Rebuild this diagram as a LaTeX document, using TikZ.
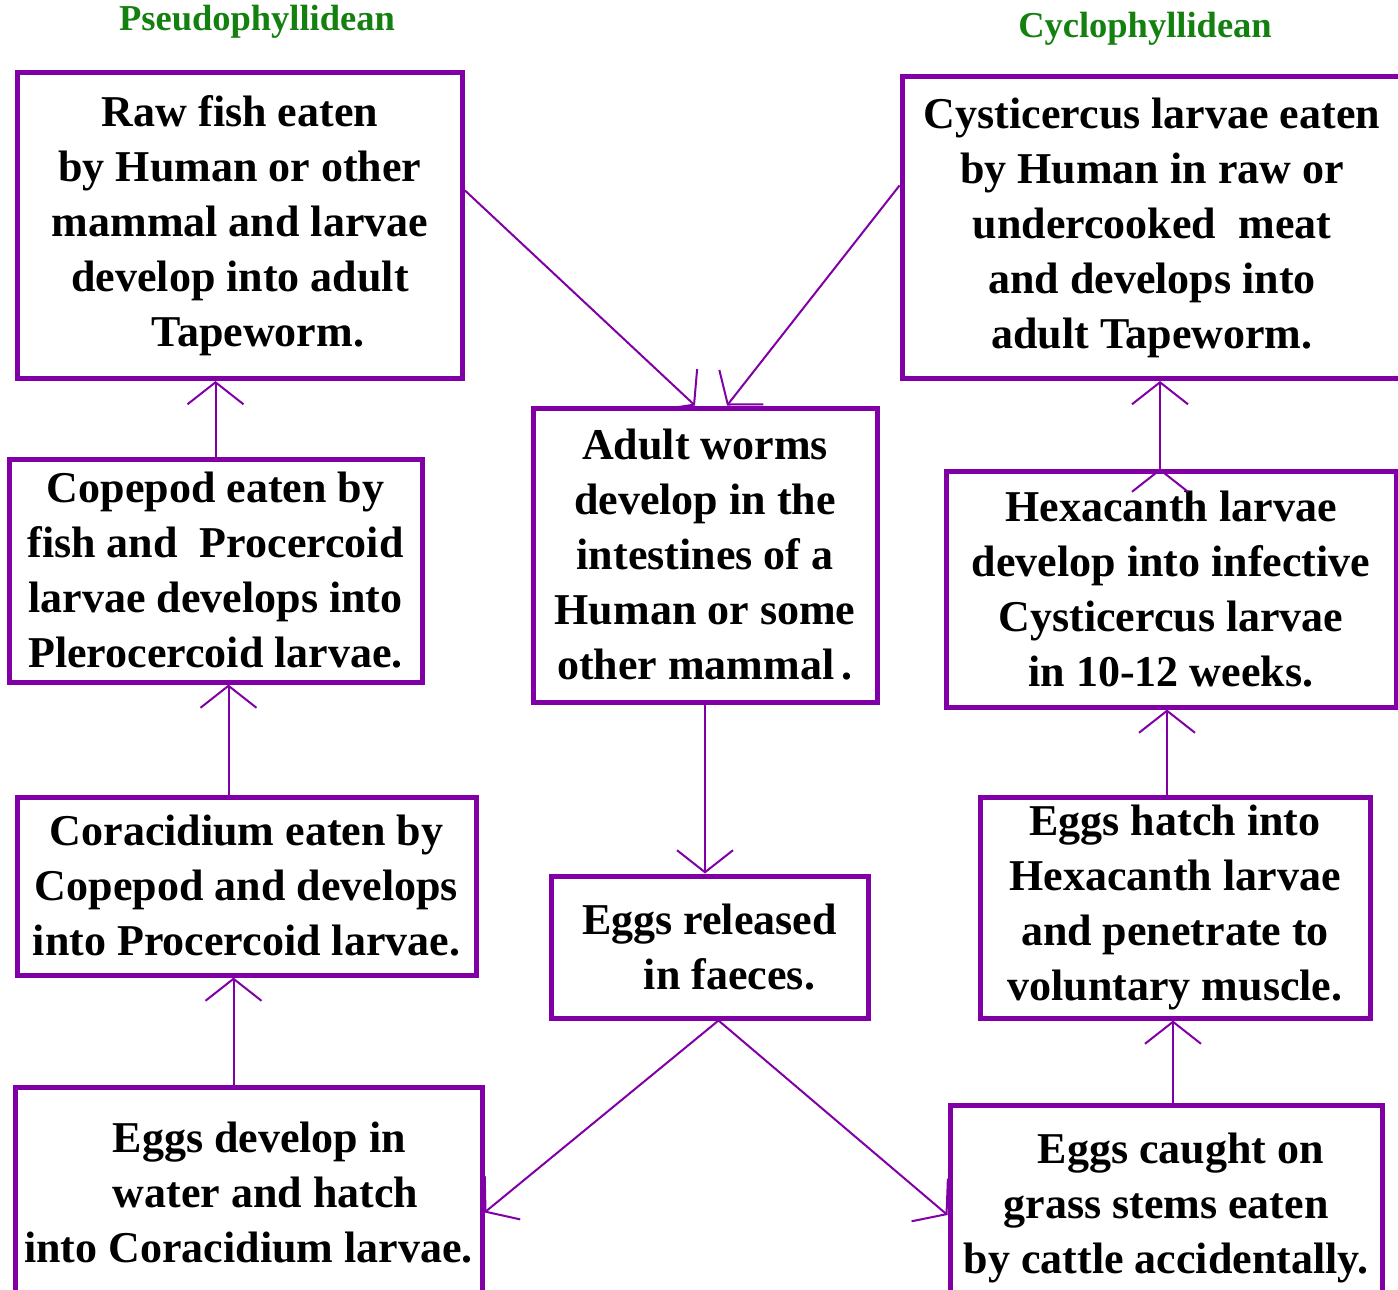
\documentclass[tikz,border=0pt]{standalone}
\usepackage{fontspec}
\setmainfont{Liberation Serif}
\usetikzlibrary{arrows.meta,positioning}
\definecolor{cyclepurple}{RGB}{128,0,166}
\definecolor{titlegreen}{RGB}{20,128,16}

\begin{document}
\begin{tikzpicture}[
        x=1pt,y=-1pt,
        stage/.style={
          draw=cyclepurple,line width=5pt,
          align=center,inner sep=0pt,
          font=\fontsize{44}{55}\selectfont\bfseries
        },
        heading/.style={
          text=titlegreen,
          font=\fontsize{36.5}{40}\selectfont\bfseries
        },
        link/.style={
          cyclepurple,line width=2pt,
          -{Straight Barb[length=22pt,width=56pt,line width=2pt]}
        },
      ]
      \clip (0,0) rectangle (1398,1290);

      \node[heading] (pseudo) at (257,22) {Pseudophyllidean};
      \node[heading] (cyclo) at (1145,29) {Cyclophyllidean};

      % left column: fish tapeworm cycle
      \node[stage,minimum width=445pt,minimum height=306pt] (rawfish) at (240,225.5) {
        Raw fish eaten\\ by Human or other\\ mammal and larvae\\ develop into adult\\ \hspace*{36pt}Tapeworm.
      };
      \node[stage,minimum width=413pt,minimum height=223pt] (copepod) at (215.5,570.5) {
        Copepod eaten by\\ fish and\ \ Procercoid\\ larvae develops into\\ Plerocercoid larvae.
      };
      \node[stage,minimum width=459pt,minimum height=178pt] (coracidium) at (246.5,886) {
        Coracidium eaten by\\ Copepod and develops\\ into Procercoid larvae.
      };
      \node[stage,minimum width=467pt,minimum height=211pt] (eggswater) at (248.5,1192.5) {
        \hspace*{22pt}Eggs develop in\\ \hspace*{34pt}water and hatch\\ into Coracidium larvae.
      };

      % middle column
      \node[stage,minimum width=344pt,minimum height=294pt] (adult) at (705,555) {
        Adult worms\\ develop in the\\ intestines of a\\ Human or some\\ other mammal\,.
      };
      \node[stage,minimum width=317pt,minimum height=142pt] (released) at (709.5,947) {
        Eggs released\\ \hspace*{40pt}in faeces.
      };

      % right column: beef tapeworm cycle
      \node[stage,minimum width=500pt,minimum height=302pt] (cysticercus) at (1152,227.5) {
        Cysticercus larvae eaten\\ by Human in raw or\\ undercooked\ \ meat\\ and develops into\\ adult Tapeworm.
      };
      \node[stage,minimum width=450pt,minimum height=236pt] (hexacanth) at (1171,589) {
        Hexacanth larvae\\ develop into infective\\ Cysticercus larvae\\ in 10-12 weeks.
      };
      \node[stage,minimum width=390pt,minimum height=221pt] (hatch) at (1175,907.5) {
        Eggs hatch into\\ Hexacanth larvae\\ and penetrate to\\ voluntary muscle.
      };
      \node[stage,minimum width=432pt,minimum height=205pt] (grass) at (1166,1208) {
        \hspace*{30pt}Eggs caught on\\ grass stems eaten\\ by cattle accidentally.
      };

      \draw[link]
        ([yshift=35pt]rawfish.east) edge ([xshift=-10pt]adult.north)
        ([yshift=42pt]cysticercus.west) edge ([xshift=22pt]adult.north)
        (copepod.north) edge (copepod.north |- rawfish.south)
        ([xshift=-18pt]coracidium.north) edge ([xshift=-18pt]coracidium.north |- copepod.south)
        ([xshift=-15pt]eggswater.north) edge ([xshift=-15pt]eggswater.north |- coracidium.south)
        (adult.south) edge (adult.south |- released.north)
        ([xshift=9pt]released.south) edge ([yshift=-20pt]eggswater.east)
        ([xshift=9pt]released.south) edge ([yshift=-7pt]grass.west)
        ([xshift=7pt]grass.north) edge ([xshift=7pt]grass.north |- hatch.south)
        ([xshift=-8pt]hatch.north) edge ([xshift=-8pt]hatch.north |- hexacanth.south)
        ([xshift=-11pt]hexacanth.north) edge ([xshift=-11pt]hexacanth.north |- cysticercus.south);
    \end{tikzpicture}
\end{document}
